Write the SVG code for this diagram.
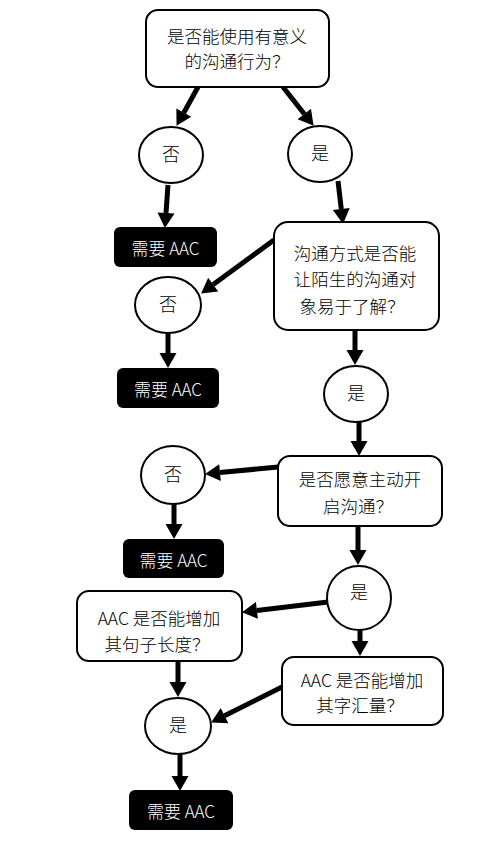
<svg xmlns="http://www.w3.org/2000/svg" width="489" height="852" viewBox="0 0 489 852">
<style>
text{font-family:"Noto Sans CJK SC","Noto Sans",sans-serif;text-anchor:middle;fill:#000;font-weight:300}
.q{font-size:17.5px}
.box{fill:#fff;stroke:#000;stroke-width:2}
.aac{fill:#000;stroke:none}
.aac-t{font-size:17px;fill:#fff}
.c{fill:#fff;stroke:#000;stroke-width:2}
.ct{font-size:18px}
.e line{stroke:#000;stroke-width:5;marker-end:url(#ah)}
</style>
<defs>
<marker id="ah" markerUnits="userSpaceOnUse" markerWidth="16" markerHeight="18" refX="0" refY="8.5" orient="auto" overflow="visible">
<path d="M0,0 L15,8.5 L0,17 z" fill="#000"/>
</marker>
</defs>
<rect width="489" height="852" fill="#fff"/>
<g id="edges" class="e">
<line x1="198" y1="87" x2="183.8" y2="112.7"/>
<line x1="283" y1="87" x2="304.3" y2="114"/>
<line x1="168" y1="185" x2="166" y2="213"/>
<line x1="338" y1="181" x2="341.3" y2="209.1"/>
<line x1="274" y1="240" x2="213.2" y2="284.6"/>
<line x1="168" y1="333" x2="168" y2="353"/>
<line x1="355" y1="330" x2="355" y2="350"/>
<line x1="359" y1="422" x2="359" y2="441"/>
<line x1="278" y1="467" x2="220" y2="472.6"/>
<line x1="174" y1="504" x2="174" y2="524"/>
<line x1="358" y1="526" x2="358" y2="550"/>
<line x1="328" y1="602" x2="256.9" y2="610.4"/>
<line x1="360" y1="630" x2="360" y2="641"/>
<line x1="178" y1="661" x2="178" y2="682"/>
<line x1="282" y1="687" x2="224.5" y2="715.7"/>
<line x1="180" y1="754" x2="180" y2="776"/>
</g>
<g id="q1">
<rect class="box" x="146" y="10" width="183" height="77" rx="12"/>
<text class="q" x="237" y="43">是否能使用有意义</text>
<text class="q" x="237" y="68">的沟通行为？</text>
</g>
<g id="no1">
<ellipse class="c" cx="171" cy="155" rx="32" ry="28"/>
<text class="ct" x="171" y="161">否</text>
</g>
<g id="yes1">
<ellipse class="c" cx="320" cy="154" rx="32" ry="28"/>
<text class="ct" x="320" y="160">是</text>
</g>
<g id="aac1">
<rect class="aac" x="114" y="227" width="103" height="40" rx="6"/>
<text class="aac-t" x="165.5" y="255">需要 AAC</text>
</g>
<g id="q2">
<rect class="box" x="274" y="222" width="165" height="108" rx="14"/>
<text class="q" x="355" y="259.5">沟通方式是否能</text>
<text class="q" x="355" y="286">让陌生的沟通对</text>
<text class="q" x="352" y="312.5">象易于了解？</text>
</g>
<g id="no2">
<ellipse class="c" cx="168" cy="305" rx="33" ry="28"/>
<text class="ct" x="168" y="311">否</text>
</g>
<g id="aac2">
<rect class="aac" x="117" y="368" width="102" height="40" rx="6"/>
<text class="aac-t" x="168" y="396">需要 AAC</text>
</g>
<g id="yes2">
<ellipse class="c" cx="356" cy="394" rx="32" ry="28"/>
<text class="ct" x="356" y="400">是</text>
</g>
<g id="q3">
<rect class="box" x="278" y="456" width="164" height="70" rx="12"/>
<text class="q" x="360" y="486">是否愿意主动开</text>
<text class="q" x="358" y="513">启沟通？</text>
</g>
<g id="no3">
<ellipse class="c" cx="173" cy="475" rx="32" ry="29"/>
<text class="ct" x="173" y="481">否</text>
</g>
<g id="aac3">
<rect class="aac" x="123" y="539" width="101" height="39" rx="6"/>
<text class="aac-t" x="173.5" y="567">需要 AAC</text>
</g>
<g id="yes3">
<ellipse class="c" cx="359" cy="598" rx="32" ry="32"/>
<text class="ct" x="359" y="599">是</text>
</g>
<g id="q4">
<rect class="box" x="77" y="591" width="165" height="70" rx="12"/>
<text class="q" x="159" y="624.5">AAC 是否能增加</text>
<text class="q" x="157" y="651">其句子长度？</text>
</g>
<g id="q5">
<rect class="box" x="282" y="657" width="161" height="68" rx="12"/>
<text class="q" x="362" y="687">AAC 是否能增加</text>
<text class="q" x="360" y="712">其字汇量？</text>
</g>
<g id="yes4">
<ellipse class="c" cx="178" cy="726" rx="33" ry="28"/>
<text class="ct" x="178" y="732">是</text>
</g>
<g id="aac4">
<rect class="aac" x="129" y="790" width="104" height="40" rx="6"/>
<text class="aac-t" x="181" y="818">需要 AAC</text>
</g>
</svg>
